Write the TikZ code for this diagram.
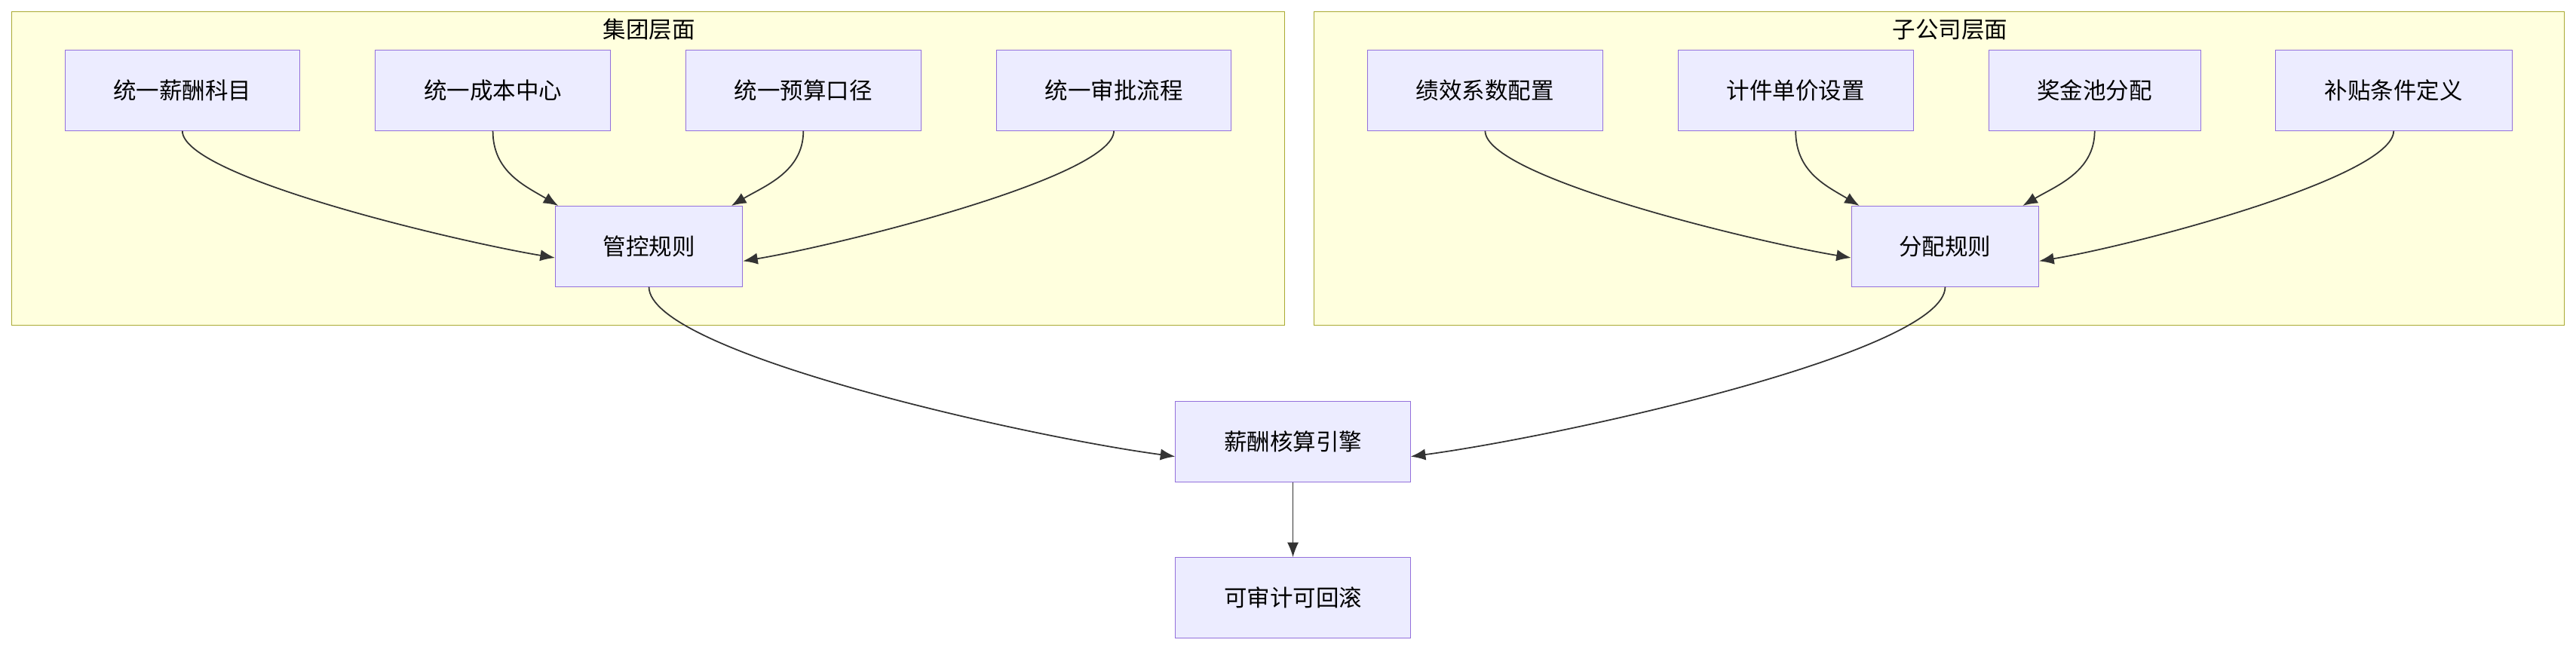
\documentclass[tikz,border=0pt]{standalone}
\usepackage{fontspec}
\setmainfont{Noto Sans CJK SC}
\usetikzlibrary{arrows.meta}
\definecolor{clfill}{HTML}{FFFFDE}
\definecolor{cldraw}{HTML}{AAAA33}
\definecolor{ndfill}{HTML}{ECECFF}
\definecolor{nddraw}{HTML}{9370DB}
\definecolor{edge}{HTML}{333333}
\tikzset{
  box/.style={draw=nddraw, fill=ndfill, minimum height=49pt, inner sep=0pt, font=\fontsize{14}{16}\selectfont},
  cluster/.style={draw=cldraw, fill=clfill},
  flow/.style={draw=edge, -{Latex[length=9pt,width=7pt]}, line width=0.8pt}
}
\begin{document}
\begin{tikzpicture}[x=1pt, y=-1pt]
	\useasboundingbox (0,0) rectangle (1568,397);
	% Cluster
	\draw[cluster] (7,7) rectangle (782,198);
	\node (tGroup) at (395,18) {\fontsize{14}{16}\selectfont 集团层面};
	\draw[cluster] (800,7) rectangle (1561,198);
	\node (tSub) at (1187,18) {\fontsize{14}{16}\selectfont 子公司层面};

	% Knoten oben
	\node[box, minimum width=143pt] (km) at (111,55) {统一薪酬科目};
	\node[box, minimum width=143pt] (kc) at (300,55) {统一成本中心};
	\node[box, minimum width=143pt] (kb) at (489,55) {统一预算口径};
	\node[box, minimum width=143pt] (ka) at (678,55) {统一审批流程};
	\node[box, minimum width=143pt] (jx) at (904,55) {绩效系数配置};
	\node[box, minimum width=143pt] (jj) at (1093,55) {计件单价设置};
	\node[box, minimum width=129pt] (jp) at (1275,55) {奖金池分配};
	\node[box, minimum width=144pt] (bt) at (1457,55) {补贴条件定义};

	\node[box, minimum width=114pt] (gk) at (395,150) {管控规则};
	\node[box, minimum width=114pt] (fp) at (1184,150) {分配规则};
	\node[box, minimum width=143pt] (hs) at (787,269) {薪酬核算引擎};
	\node[box, minimum width=143pt] (sj) at (787,364) {可审计可回滚};

	% Pfeile
	\draw[flow] (km.south) .. controls +(0,28) and +(-60,-10) .. ([yshift=-7pt]gk.west);
	\draw[flow] (kc.south) .. controls +(0,25) and +(-20,-12) .. ([xshift=2pt]gk.north west);
	\draw[flow] (kb.south) .. controls +(0,25) and +(20,-12) .. ([xshift=-7pt]gk.north east);
	\draw[flow] (ka.south) .. controls +(0,28) and +(60,-10) .. ([yshift=-9pt]gk.east);
	\draw[flow] (jx.south) .. controls +(0,28) and +(-60,-10) .. ([yshift=-7pt]fp.west);
	\draw[flow] (jj.south) .. controls +(0,25) and +(-20,-12) .. ([xshift=5pt]fp.north west);
	\draw[flow] (jp.south) .. controls +(0,25) and +(20,-12) .. ([xshift=-10pt]fp.north east);
	\draw[flow] (bt.south) .. controls +(0,28) and +(60,-10) .. ([yshift=-9pt]fp.east);
	\draw[flow] (gk.south) .. controls +(0,40) and +(-90,-12) .. ([yshift=-9pt]hs.west);
	\draw[flow] (fp.south) .. controls +(0,40) and +(90,-12) .. ([yshift=-9pt]hs.east);
	\draw[flow] (hs) -- (sj);
\end{tikzpicture}
\end{document}
